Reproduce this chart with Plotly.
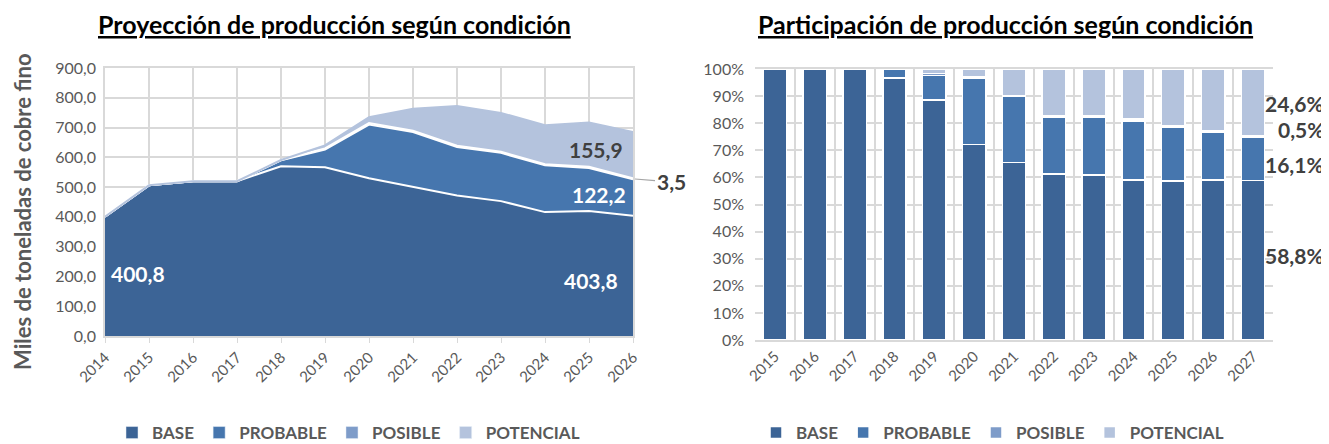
import plotly.graph_objects as go

# Proyección (miles de toneladas de cobre fino)
anios_proy = [2014, 2015, 2016, 2017, 2018, 2019, 2020, 2021, 2022, 2023, 2024, 2025, 2026]
base_proy = [400.8, 506, 520, 520, 570, 567, 530, 500, 472, 453, 416, 420, 403.8]
probable_proy = [0, 0, 0, 0, 20, 59, 180, 185, 163, 162, 157, 144, 122.2]
posible_proy = [0, 0, 0, 0, 1, 4, 5, 4, 4, 4, 4, 4, 3.5]
potencial_proy = [0, 0, 0, 0, 0, 10, 20, 74, 133, 130, 131, 149, 155.9]

# Participación (%)
anios_part = ['2015', '2016', '2017', '2018', '2019', '2020', '2021',
              '2022', '2023', '2024', '2025', '2026', '2027']
base_part = [100, 100, 100, 96.6, 88.6, 72.1, 65.5, 61.3, 60.9, 59.0, 58.7, 59.0, 58.8]
probable_part = [0, 0, 0, 3.4, 9.0, 24.5, 24.3, 20.9, 21.3, 21.9, 19.7, 17.6, 16.1]
posible_part = [0, 0, 0, 0, 0.8, 0.7, 0.5, 0.6, 0.6, 0.6, 0.6, 0.6, 0.5]
potencial_part = [0, 0, 0, 0, 1.6, 2.7, 9.7, 17.2, 17.2, 18.5, 21.0, 22.8, 24.6]

nombres = ['BASE', 'PROBABLE', 'POSIBLE', 'POTENCIAL']
colores = ['#3c6496', '#4676ae', '#7e9cc9', '#b4c3dd']

# la pagina tiene un margen de 8px en el body
OFF = 8
W, H = 1329 - OFF, 444 - OFF
GRIS = '#595959'
GRID = '#d9d9d9'
FONT = 'Lato'


def px_x(p):
    return (p - OFF) / W


def px_y(p):
    return (H - (p - OFF)) / H


def fmt(v, suf=''):
    return f'{v:.1f}'.replace('.', ',') + suf


fig = go.Figure()

# Areas apiladas (izquierda)
series_proy = [base_proy, probable_proy, posible_proy, potencial_proy]
for nombre, color, vals in zip(nombres, colores, series_proy):
    fig.add_trace(go.Scatter(
        x=anios_proy, y=vals, name=nombre, stackgroup='proy', mode='lines',
        line=dict(color='white' if nombre != 'POTENCIAL' else color, width=2),
        fillcolor=color, showlegend=False, xaxis='x', yaxis='y'))

# Leyenda izquierda (cuadrados)
for nombre, color in zip(nombres, colores):
    fig.add_trace(go.Bar(x=[None], y=[None], name=nombre, marker_color=color,
                         legend='legend', xaxis='x', yaxis='y'))

# Barras apiladas (derecha)
series_part = [base_part, probable_part, posible_part, potencial_part]
for nombre, color, vals in zip(nombres, colores, series_part):
    fig.add_trace(go.Bar(
        x=anios_part, y=vals, name=nombre, marker=dict(color=color, line=dict(color='white', width=1.5)),
        legend='legend2', xaxis='x2', yaxis='y2'))

ejes_font = dict(family=FONT, size=15, color=GRIS)
leg_font = dict(family=FONT, size=17, color=GRIS, weight='bold')

fig.update_layout(
    width=W, height=H,
    margin=dict(l=0, r=0, t=0, b=0, autoexpand=False),
    paper_bgcolor='white', plot_bgcolor='white',
    barmode='stack', bargap=0.415,
    separators=',.',
    font=dict(family=FONT, color=GRIS),
    xaxis=dict(domain=[px_x(105), px_x(633)], anchor='y', range=[2014, 2026], tickvals=anios_proy,
               ticktext=[str(a) for a in anios_proy], tickangle=-45, tickfont=ejes_font,
               showgrid=True, gridcolor=GRID, gridwidth=1.5, showline=True, linecolor=GRID,
               linewidth=1.5, mirror=True, ticks='outside', tickcolor=GRID, ticklen=5,
               zeroline=False, automargin=False),
    yaxis=dict(domain=[px_y(336), px_y(68)], anchor='x', range=[0, 900], dtick=100, tickformat='.1f',
               tickfont=dict(family=FONT, size=16, color=GRIS), showgrid=True, gridcolor=GRID,
               gridwidth=1.5, showline=True, linecolor=GRID, linewidth=1.5, mirror=True,
               zeroline=False, ticklabelstandoff=4, automargin=False),
    xaxis2=dict(domain=[px_x(755), px_x(1273)], anchor='y2', type='category', tickangle=-45,
                tickfont=ejes_font, showgrid=True, gridcolor=GRID, gridwidth=1.5, tickson='boundaries',
                showline=True, linecolor=GRID, linewidth=1.5, mirror=True, ticks='', automargin=False),
    yaxis2=dict(domain=[px_y(340), px_y(69)], anchor='x2', range=[0, 100], dtick=10, ticksuffix='%',
                tickfont=dict(family=FONT, size=16, color=GRIS), showgrid=True, gridcolor=GRID,
                gridwidth=1.5, zeroline=False, ticklabelstandoff=10, automargin=False),
    legend=dict(orientation='h', x=px_x(112), y=px_y(433), xanchor='left', yanchor='middle',
                font=leg_font, itemclick=False, traceorder='normal'),
    legend2=dict(orientation='h', x=px_x(756), y=px_y(433), xanchor='left', yanchor='middle',
                 font=leg_font, itemclick=False, traceorder='normal'),
)

anot = []
# Titulos
for texto, cx in [('Proyección de producción según condición', 334),
                  ('Participación de producción según condición', 1005)]:
    anot.append(dict(text=f'<b><u>{texto}</u></b>', x=px_x(cx), y=px_y(24), xref='paper', yref='paper',
                     showarrow=False, xanchor='center', yanchor='middle',
                     font=dict(family=FONT, size=25, color='black')))

# Titulo eje Y
anot.append(dict(text='<b>Miles de toneladas de cobre fino</b>', x=px_x(22), y=px_y(212),
                 xref='paper', yref='paper', showarrow=False, textangle=-90,
                 xanchor='center', yanchor='middle',
                 font=dict(family=FONT, size=22, color=GRIS)))

etiq_font = dict(family=FONT, size=21)
# Etiquetas area
anot.append(dict(text=f'<b>{fmt(base_proy[0])}</b>', x=2014, y=210, xref='x', yref='y',
                 xanchor='left', xshift=4, showarrow=False, font=dict(etiq_font, color='white')))
anot.append(dict(text=f'<b>{fmt(base_proy[-1])}</b>', x=2026, y=187, xref='x', yref='y',
                 xanchor='right', xshift=-13, showarrow=False, font=dict(etiq_font, color='white')))
anot.append(dict(text=f'<b>{fmt(probable_proy[-1])}</b>', x=2026, y=476, xref='x', yref='y',
                 xanchor='right', xshift=-5, showarrow=False, font=dict(etiq_font, color='white')))
anot.append(dict(text=f'<b>{fmt(potencial_proy[-1])}</b>', x=2026, y=627, xref='x', yref='y',
                 xanchor='right', xshift=-8, showarrow=False, font=dict(etiq_font, color='#404040')))
y_pos = base_proy[-1] + probable_proy[-1] + posible_proy[-1] / 2
anot.append(dict(text=f'<b>{fmt(posible_proy[-1])}</b>', x=2026, y=y_pos, xref='x', yref='y',
                 showarrow=True, arrowhead=0, arrowwidth=1.2, arrowcolor='#a6a6a6',
                 ax=38, ay=3, standoff=2, font=dict(etiq_font, color='#404040')))

# Etiquetas barras (último año)
for v, yv in zip([potencial_part[-1], posible_part[-1], probable_part[-1], base_part[-1]],
                 [87.1, 77.5, 64.6, 31.0]):
    anot.append(dict(text=f'<b>{fmt(v, "%")}</b>', x=px_x(1326), y=yv, xref='paper', yref='y2',
                     xanchor='right', yanchor='middle', showarrow=False,
                     font=dict(etiq_font, color='#404040')))

fig.update_layout(annotations=anot)

fig.write_html('out.html')
